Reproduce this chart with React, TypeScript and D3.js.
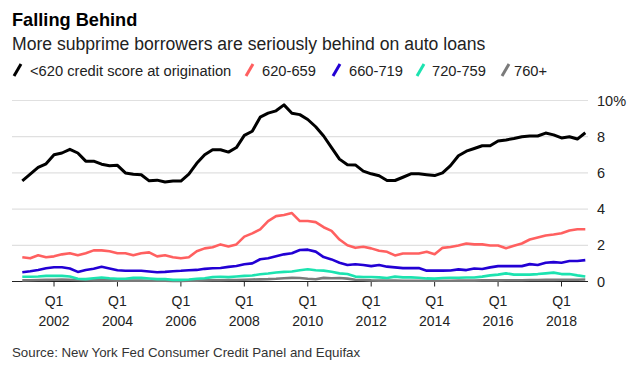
import React from "react";
import * as d3 from "d3";

const startYear = 2001;
const seriesNames = ["<620 credit score at origination", "620-659", "660-719", "720-759", "760+"];
const seriesColors = ["#000000", "#ff6060", "#2200d4", "#1ce3b0", "#7a7a7a"];

const below620 = [5.56,5.93,6.3,6.5,7.0,7.1,7.3,7.1,6.65,6.65,6.48,6.4,6.42,6.0,5.93,5.9,5.56,5.6,5.5,5.55,5.55,5.93,6.53,7.0,7.28,7.28,7.15,7.4,8.07,8.3,9.08,9.3,9.43,9.76,9.3,9.22,8.95,8.55,8.04,7.4,6.76,6.45,6.44,6.1,5.95,5.84,5.58,5.58,5.76,5.95,5.95,5.9,5.85,6.0,6.4,6.95,7.2,7.35,7.5,7.5,7.76,7.82,7.9,8.0,8.04,8.04,8.2,8.1,7.93,8.0,7.87,8.22];
const s620_659 = [1.34,1.28,1.45,1.34,1.39,1.5,1.56,1.45,1.56,1.72,1.72,1.67,1.56,1.56,1.45,1.56,1.61,1.39,1.45,1.34,1.28,1.34,1.67,1.83,1.89,2.05,1.94,2.05,2.48,2.66,2.88,3.34,3.61,3.67,3.78,3.34,3.34,3.28,3.0,2.8,2.32,2.0,1.86,1.92,1.83,1.7,1.64,1.44,1.55,1.55,1.55,1.64,1.51,1.86,1.91,1.99,2.1,2.05,2.05,1.99,1.99,1.84,1.97,2.1,2.32,2.43,2.54,2.6,2.67,2.82,2.89,2.89];
const s660_719 = [0.51,0.57,0.64,0.73,0.79,0.79,0.72,0.53,0.64,0.7,0.81,0.72,0.62,0.59,0.59,0.59,0.55,0.51,0.53,0.57,0.59,0.62,0.64,0.7,0.73,0.75,0.81,0.86,0.95,1.0,1.23,1.28,1.39,1.5,1.56,1.74,1.76,1.65,1.35,1.22,1.04,0.91,0.95,0.91,0.85,0.91,0.82,0.78,0.74,0.74,0.74,0.6,0.6,0.6,0.61,0.67,0.63,0.72,0.69,0.78,0.85,0.85,0.85,0.85,0.96,0.91,1.04,1.07,1.04,1.13,1.13,1.18];
const s720_759 = [0.26,0.26,0.28,0.31,0.31,0.31,0.28,0.15,0.13,0.18,0.22,0.18,0.15,0.15,0.2,0.2,0.17,0.13,0.13,0.09,0.09,0.11,0.15,0.18,0.24,0.26,0.24,0.28,0.31,0.33,0.4,0.44,0.5,0.53,0.55,0.62,0.68,0.62,0.6,0.54,0.45,0.41,0.27,0.25,0.25,0.23,0.19,0.27,0.23,0.23,0.21,0.17,0.16,0.19,0.21,0.21,0.22,0.22,0.27,0.34,0.38,0.45,0.38,0.38,0.38,0.41,0.45,0.49,0.41,0.41,0.34,0.28];
const s760plus = [0.06,0.07,0.08,0.09,0.1,0.11,0.1,0.08,0.07,0.06,0.07,0.06,0.05,0.05,0.05,0.05,0.04,0.04,0.04,0.03,0.03,0.04,0.05,0.06,0.07,0.07,0.08,0.08,0.1,0.11,0.12,0.13,0.15,0.18,0.2,0.19,0.15,0.12,0.2,0.18,0.19,0.16,0.1,0.08,0.06,0.05,0.05,0.05,0.04,0.04,0.04,0.04,0.04,0.04,0.04,0.05,0.05,0.05,0.06,0.06,0.06,0.07,0.07,0.07,0.08,0.08,0.09,0.09,0.1,0.1,0.1,0.11];

const allSeries = [below620, s620_659, s660_719, s720_759, s760plus];
const quarters = below620.map((_, i) => ({ year: startYear + Math.floor(i / 4), q: (i % 4) + 1 }));
const xTickYears = [2002, 2004, 2006, 2008, 2010, 2012, 2014, 2016, 2018];
const yTicks = [0, 2, 4, 6, 8, 10];

const FONT = "'Liberation Sans', Arial, sans-serif";

export default function App() {
  const W = 640, H = 368;
  const x = d3.scaleLinear().domain([0, quarters.length - 1]).range([22.3, 585.3]);
  const y = d3.scaleLinear().domain([0, 10]).range([281.5, 100.5]);
  const line = d3.line<number>().x((_, i) => x(i)).y((d) => y(d)).curve(d3.curveLinear);
  const plotLeft = 12, plotRight = 588;
  const idxOf = (yr: number) => quarters.findIndex((q) => q.year === yr && q.q === 1);

  const legendItems = [
    { slash: 14, text: 30 },
    { slash: 246, text: 262 },
    { slash: 333, text: 349 },
    { slash: 417, text: 432 },
    { slash: 502, text: 514 },
  ];

  return (
    <svg width={W} height={H} style={{ position: "absolute", left: 0, top: 0, background: "#fff" }} fontFamily={FONT}>
      <rect width={W} height={H} fill="#fff" />
      <text x={12} y={26} fontSize={18.2} fontWeight="bold" fill="#000">Falling Behind</text>
      <text x={12} y={50} fontSize={17.6} fill="#222">More subprime borrowers are seriously behind on auto loans</text>
      {seriesNames.map((name, i) => (
        <g key={name}>
          <line x1={legendItems[i].slash} y1={76} x2={legendItems[i].slash + 7} y2={64} stroke={seriesColors[i]} strokeWidth={3} />
          <text x={legendItems[i].text} y={75.5} fontSize={14.7} fill="#222">{name}</text>
        </g>
      ))}
      {yTicks.filter((t) => t > 0).map((t) => (
        <line key={t} x1={plotLeft} x2={plotRight} y1={y(t)} y2={y(t)} stroke="#e0e0e0" strokeWidth={1.2} />
      ))}
      {yTicks.map((t) => (
        <text key={t} x={597} y={y(t)} dy="0.35em" fontSize={14.5} fill="#222">{t === 10 ? "10%" : t}</text>
      ))}
      <line x1={plotLeft} x2={plotRight} y1={y(0)} y2={y(0)} stroke="#222" strokeWidth={1} />
      {xTickYears.map((yr) => {
        const xi = x(idxOf(yr));
        return (
          <g key={yr}>
            <line x1={xi} x2={xi} y1={y(0)} y2={y(0) + 5} stroke="#222" strokeWidth={1} />
            <text x={xi} y={306} textAnchor="middle" fontSize={14} fill="#222">Q1</text>
            <text x={xi} y={326} textAnchor="middle" fontSize={14} fill="#222">{yr}</text>
          </g>
        );
      })}
      {[4, 3, 2, 1, 0].map((i) => (
        <path key={i} d={line(allSeries[i]) || ""} fill="none" stroke={seriesColors[i]} strokeWidth={i === 0 ? 3 : 2.6} strokeLinejoin="round" />
      ))}
      <text x={12} y={357} fontSize={13.3} fill="#333">Source: New York Fed Consumer Credit Panel and Equifax</text>
    </svg>
  );
}
